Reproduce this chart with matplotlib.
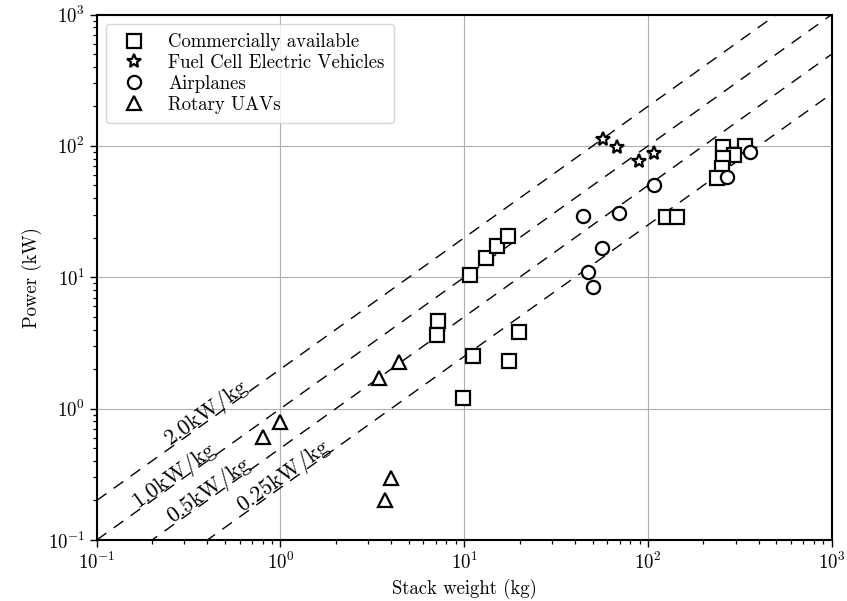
#!/usr/bin/env python3
# -*- coding: utf-8 -*-
"""Fuel cell stack power vs. stack weight (log-log)"""
import numpy as np
import matplotlib
matplotlib.use("Agg")
import matplotlib.pyplot as plt
from matplotlib.lines import Line2D
from matplotlib.ticker import LogLocator, NullFormatter

# data
comm_w = [9.8, 10.8, 13.1, 15.0, 17.2, 7.2, 7.1, 19.8, 11.1, 17.6, 125, 143,
          257, 337, 295, 257, 252, 238]
comm_p = [1.21, 10.4, 14.1, 17.3, 20.6, 4.67, 3.63, 3.81, 2.51, 2.31, 28.9, 28.9,
          98.4, 99.7, 86.0, 80.4, 67.5, 56.6]

fcev_w = [57.2, 67.6, 89.4, 108.3]
fcev_p = [112, 97.4, 77.1, 88.6]

air_w = [108.3, 44.2, 69.9, 56.0, 47.4, 50.4, 359, 268]
air_p = [50.3, 29.2, 30.6, 16.6, 11.0, 8.47, 90.2, 58.2]

uav_w = [4.42, 3.44, 0.994, 0.80, 3.98, 3.71]
uav_p = [2.28, 1.70, 0.795, 0.605, 0.298, 0.201]

# specific power reference lines (kW/kg) and where their labels sit (kg)
ratios = [2.0, 1.0, 0.5, 0.25]
ratio_labels = ["2.0kW/kg", "1.0kW/kg", "0.5kW/kg", "0.25kW/kg"]
label_at_w = [0.42, 0.278, 0.428, 1.09]

plt.rcParams["font.family"] = "serif"
plt.rcParams["font.serif"] = ["cmr10"]
plt.rcParams["mathtext.fontset"] = "cm"
plt.rcParams["axes.formatter.use_mathtext"] = True
plt.rcParams["font.size"] = 13.5


def main():
    fig = plt.figure(figsize=(8.47, 6.01), dpi=100)
    ax = fig.add_axes([0.1142, 0.1015, 0.8678, 0.8743])

    ax.set_xscale("log")
    ax.set_yscale("log")
    ax.set_xlim(0.1, 1000)
    ax.set_ylim(0.1, 1000)
    for axis in (ax.xaxis, ax.yaxis):
        axis.set_minor_locator(LogLocator(base=10, subs=np.arange(2, 10), numticks=100))
        axis.set_minor_formatter(NullFormatter())
    ax.tick_params(which="major", length=5, width=1.0)
    ax.tick_params(which="minor", length=3, width=0.9)

    # screen angle of a slope-1 line in log-log space
    bb = ax.get_position()
    w_px = bb.width * fig.get_figwidth()
    h_px = bb.height * fig.get_figheight()
    ang = np.degrees(np.arctan2(h_px, w_px))

    w_line = np.array([0.1, 1000])
    for r, lab, wl in zip(ratios, ratio_labels, label_at_w):
        ax.plot(w_line, r * w_line, color="black", lw=1.0,
                linestyle=(0, (8.5, 6.5)), zorder=2)
        ax.annotate(lab, xy=(wl, r * wl),
                    xytext=(-np.sin(np.radians(ang)) * 1.5, np.cos(np.radians(ang)) * 1.5),
                    textcoords="offset points", rotation=ang,
                    rotation_mode="anchor", ha="center", va="baseline",
                    fontsize=16, zorder=3)

    mk = dict(linestyle="none", markerfacecolor="white", markeredgecolor="black",
              markeredgewidth=1.6, zorder=4)
    ax.plot(comm_w, comm_p, marker="s", markersize=10, **mk)
    ax.plot(fcev_w, fcev_p, marker="*", markersize=10, **mk)
    ax.plot(air_w, air_p, marker="o", markersize=9.5, **mk)
    ax.plot(uav_w, uav_p, marker="^", markersize=10, **mk)

    ax.grid(True, which="major", color="#b0b0b0", lw=0.8, zorder=0)
    for s in ax.spines.values():
        s.set_linewidth(1.5)

    ax.set_xlabel("Stack weight (kg)")
    ax.set_ylabel("Power (kW)")

    leg_mk = dict(linestyle="none", color="black", markerfacecolor="white",
                  markeredgewidth=1.6)
    handles = [
        Line2D([], [], marker="s", markersize=10, **leg_mk),
        Line2D([], [], marker="*", markersize=10, **leg_mk),
        Line2D([], [], marker="o", markersize=9.5, **leg_mk),
        Line2D([], [], marker="^", markersize=10, **leg_mk),
    ]
    labels = ["Commercially available", "Fuel Cell Electric Vehicles",
              "Airplanes", "Rotary UAVs"]
    ax.legend(handles, labels, loc="upper left", fontsize=13.5,
              handletextpad=0.8, labelspacing=0.15, borderpad=0.5)

    fig.savefig("out.png", dpi=100)
    plt.close(fig)


if __name__ == "__main__":
    main()
